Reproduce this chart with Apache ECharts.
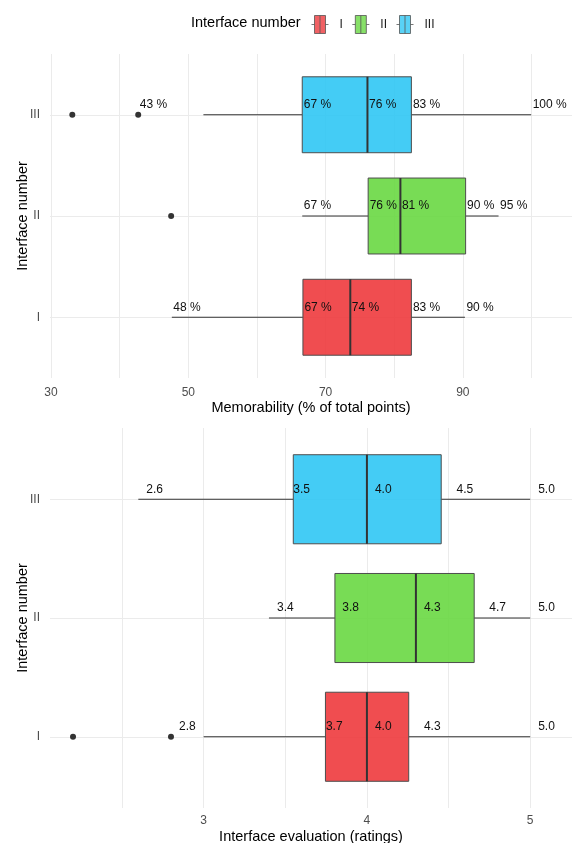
<!DOCTYPE html>
<html>
<head>
<meta charset="utf-8">
<script src="https://cdn.jsdelivr.net/npm/echarts@6/dist/echarts.min.js"></script>
<style>
  html, body { margin: 0; padding: 0; background: #ffffff; }
  #chart { width: 572px; height: 843px; }
</style>
</head>
<body>
<div id="chart"></div>
<script>
// Interfaces, bottom to top
const interfaces = ['I', 'II', 'III'];
const boxColours = ['rgba(238,58,61,0.9)', 'rgba(105,216,66,0.9)', 'rgba(48,199,244,0.9)'];
const legendColours = ['#EE3A3D', '#69D842', '#30C7F4'];

// Memorability (% of total points): whisker ends, quartiles, median
const memMin = [47.6, 66.6, 52.2];
const memQ1 = [66.7, 76.2, 66.6];
const memMedian = [73.6, 80.9, 76.1];
const memQ3 = [82.5, 90.4, 82.5];
const memMax = [90.3, 95.2, 99.95];
const memOutliers = [[], [47.5], [33.1, 42.7]];
// which point carries the low-end label: the whisker end or the top outlier
const memLowLabel = ['whisker', 'whisker', 'outlier'];
const memTicks = [30, 50, 70, 90];
const memGrid = [30, 40, 50, 60, 70, 80, 90, 100];

// Interface evaluation (ratings)
const evalMin = [3.0, 3.4, 2.6];
const evalQ1 = [3.746, 3.804, 3.549];
const evalMedian = [4.0, 4.3, 4.0];
const evalQ3 = [4.256, 4.657, 4.455];
const evalMax = [5.0, 5.0, 5.0];
const evalOutliers = [[2.2, 2.8], [], []];
const evalLowLabel = ['outlier', 'whisker', 'whisker'];
const evalTicks = [3, 4, 5];
const evalGrid = [2.5, 3, 3.5, 4, 4.5, 5];

const FONT = '"Liberation Sans", Arial, sans-serif';

function boxData(mn, q1, md, q3, mx) {
  return interfaces.map((_, i) => [i + 1, mn[i], q1[i], md[i], q3[i], mx[i]]);
}
function outlierData(out) {
  const d = [];
  out.forEach((vals, i) => vals.forEach(v => d.push([v, i + 1])));
  return d;
}
function labelData(mn, q1, md, q3, mx, out, low) {
  const d = [];
  interfaces.forEach((_, i) => {
    const lowVal = low[i] === 'outlier' ? Math.max.apply(null, out[i]) : mn[i];
    [lowVal, q1[i], md[i], q3[i], mx[i]].forEach(v => d.push([v, i + 1]));
  });
  return d;
}

function renderBox(params, api) {
  const cat = api.value(0);
  const lo = api.coord([api.value(1), cat]);
  const q1 = api.coord([api.value(2), cat]);
  const md = api.coord([api.value(3), cat]);
  const q3 = api.coord([api.value(4), cat]);
  const hi = api.coord([api.value(5), cat]);
  const h = api.size([0, 0.75])[1];
  const y = lo[1];
  const line = { stroke: '#333333', lineWidth: 1 };
  return {
    type: 'group',
    children: [
      { type: 'line', shape: { x1: lo[0], y1: y, x2: q1[0], y2: y }, style: line },
      { type: 'line', shape: { x1: q3[0], y1: y, x2: hi[0], y2: y }, style: line },
      { type: 'rect', shape: { x: q1[0], y: y - h / 2, width: q3[0] - q1[0], height: h },
        style: { fill: boxColours[params.dataIndex], stroke: '#4D4D4D', lineWidth: 1 } },
      { type: 'line', shape: { x1: md[0], y1: y - h / 2, x2: md[0], y2: y + h / 2 },
        style: { stroke: '#333333', lineWidth: 2 } }
    ]
  };
}

// Percent labels sit at the value; rating labels at the rounded rating
function makeLabelRender(fmt, atRounded, dx) {
  return function (params, api) {
    const v = api.value(0);
    const cat = api.value(1);
    const text = fmt(v);
    const p = api.coord([atRounded ? Number(text) : v, cat]);
    return {
      type: 'text',
      x: p[0] + dx,
      y: p[1] - 10,
      style: { text: text, fill: '#111111', font: '12px ' + FONT, align: 'left', verticalAlign: 'middle' }
    };
  };
}

function yAxis(gridIndex) {
  return {
    type: 'value', gridIndex: gridIndex, min: 0.4, max: 3.6,
    name: 'Interface number', nameLocation: 'middle', nameGap: 20, nameRotate: 90,
    nameMoveOverlap: false,
    nameTextStyle: { fontFamily: FONT, fontSize: 14.5, color: '#000000' },
    axisLine: { show: false },
    axisTick: { show: false, customValues: [1, 2, 3] },
    axisLabel: { customValues: [1, 2, 3], formatter: v => interfaces[Math.round(v) - 1],
      color: '#4D4D4D', fontFamily: FONT, fontSize: 12, margin: 10 },
    splitLine: { show: true, lineStyle: { color: '#EBEBEB', width: 1 } }
  };
}

function xAxis(gridIndex, min, max, ticks, grid, name, margin, gap) {
  return {
    type: 'value', gridIndex: gridIndex, min: min, max: max,
    name: name, nameLocation: 'middle', nameGap: gap, nameMoveOverlap: false,
    nameTextStyle: { fontFamily: FONT, fontSize: 14.5, color: '#000000' },
    axisLine: { show: false },
    axisTick: { show: false, customValues: grid },
    axisLabel: { customValues: ticks, color: '#4D4D4D', fontFamily: FONT, fontSize: 12, margin: margin },
    splitLine: { show: true, lineStyle: { color: '#EBEBEB', width: 1 } }
  };
}

const legendIcon = 'path://M0,9L3,9M3,0L14,0L14,18L3,18ZM8.5,0L8.5,18M14,9L17,9';

const chart = echarts.init(document.getElementById('chart'), null, { renderer: 'canvas' });
chart.setOption({
  backgroundColor: '#FFFFFF',
  animation: false,
  textStyle: { fontFamily: FONT },
  graphic: [{
    type: 'text', left: 191, top: 15,
    style: { text: 'Interface number', font: '14.5px ' + FONT, fill: '#000000' }
  }],
  legend: {
    left: 311, top: 15, padding: 0,
    itemWidth: 17, itemHeight: 18, itemGap: 9,
    icon: legendIcon,
    itemStyle: { borderColor: '#555555', borderWidth: 1 },
    textStyle: { fontFamily: FONT, fontSize: 12, color: '#1A1A1A', padding: [0, 0, 0, 6] },
    data: interfaces.map((n, i) => ({ name: n, itemStyle: { color: legendColours[i] } }))
  },
  grid: [
    { left: 50, right: 0, top: 54, height: 324, outerBoundsMode: 'none', containLabel: false },
    { left: 50, right: 0, top: 428, height: 380, outerBoundsMode: 'none', containLabel: false }
  ],
  xAxis: [
    xAxis(0, 29.85, 105.9, memTicks, memGrid, 'Memorability (% of total points)', 9, 22),
    xAxis(1, 2.059, 5.256, evalTicks, evalGrid, 'Interface evaluation (ratings)', 7, 21)
  ],
  yAxis: [yAxis(0), yAxis(1)],
  series: [
    // legend entries
    ...interfaces.map((n, i) => ({ type: 'scatter', name: n, data: [], itemStyle: { color: legendColours[i] } })),
    {
      type: 'custom', xAxisIndex: 0, yAxisIndex: 0, renderItem: renderBox,
      encode: { x: [1, 2, 3, 4, 5], y: 0 },
      data: boxData(memMin, memQ1, memMedian, memQ3, memMax), z: 2
    },
    {
      type: 'scatter', xAxisIndex: 0, yAxisIndex: 0, symbolSize: 6,
      itemStyle: { color: '#333333', opacity: 1 }, data: outlierData(memOutliers), z: 3
    },
    {
      type: 'custom', xAxisIndex: 0, yAxisIndex: 0,
      renderItem: makeLabelRender(v => Math.round(v) + ' %', false, 1.5),
      encode: { x: 0, y: 1 },
      data: labelData(memMin, memQ1, memMedian, memQ3, memMax, memOutliers, memLowLabel), z: 4
    },
    {
      type: 'custom', xAxisIndex: 1, yAxisIndex: 1, renderItem: renderBox,
      encode: { x: [1, 2, 3, 4, 5], y: 0 },
      data: boxData(evalMin, evalQ1, evalMedian, evalQ3, evalMax), z: 2
    },
    {
      type: 'scatter', xAxisIndex: 1, yAxisIndex: 1, symbolSize: 6,
      itemStyle: { color: '#333333', opacity: 1 }, data: outlierData(evalOutliers), z: 3
    },
    {
      type: 'custom', xAxisIndex: 1, yAxisIndex: 1,
      renderItem: makeLabelRender(v => v.toFixed(1), true, 8),
      encode: { x: 0, y: 1 },
      data: labelData(evalMin, evalQ1, evalMedian, evalQ3, evalMax, evalOutliers, evalLowLabel), z: 4
    }
  ]
});
</script>
</body>
</html>
